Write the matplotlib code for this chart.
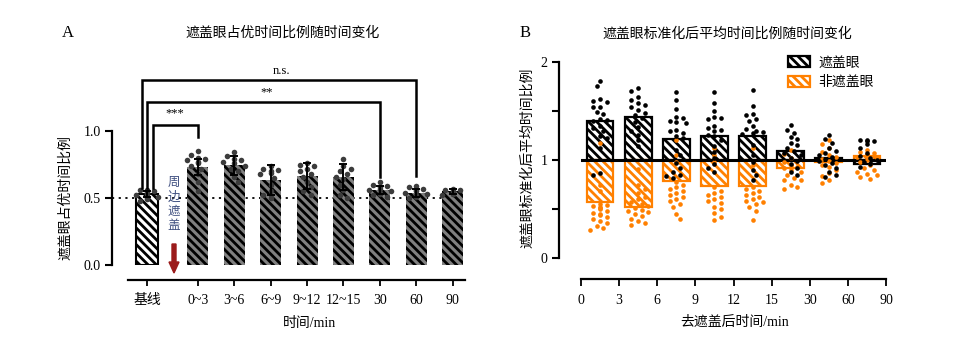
import numpy as np
import matplotlib
matplotlib.use('Agg')
import matplotlib.pyplot as plt
from matplotlib.patches import Patch, FancyArrow

plt.rcParams['font.family'] = ['Liberation Serif', 'Noto Sans CJK SC']
plt.rcParams['hatch.linewidth'] = 2.0
plt.rcParams['axes.unicode_minus'] = False

# ---------------- Panel A data ----------------
a_categories = ['基线', '0~3', '3~6', '6~9', '9~12', '12~15', '30', '60', '90']
a_means = [0.53, 0.73, 0.745, 0.634, 0.664, 0.657, 0.56, 0.537, 0.55]
a_sd = [0.02, 0.06, 0.07, 0.11, 0.10, 0.10, 0.03, 0.03, 0.02]
a_pts_base = [0.56, 0.56, 0.55, 0.55, 0.54, 0.54, 0.53, 0.52, 0.51, 0.50, 0.49, 0.48]
a_pts_0_3 = [0.85, 0.82, 0.80, 0.79, 0.78, 0.77, 0.76, 0.74, 0.72, 0.68, 0.62, 0.55]
a_pts_3_6 = [0.84, 0.81, 0.79, 0.78, 0.77, 0.76, 0.74, 0.72, 0.70, 0.66, 0.62]
a_pts_6_9 = [0.74, 0.72, 0.71, 0.70, 0.69, 0.68, 0.65, 0.60, 0.55, 0.52, 0.50]
a_pts_9_12 = [0.76, 0.75, 0.74, 0.72, 0.70, 0.68, 0.66, 0.62, 0.58, 0.55, 0.52]
a_pts_12_15 = [0.79, 0.74, 0.72, 0.70, 0.68, 0.66, 0.64, 0.60, 0.56, 0.52, 0.50]
a_pts_30 = [0.62, 0.60, 0.59, 0.58, 0.57, 0.56, 0.55, 0.54, 0.53, 0.52, 0.51]
a_pts_60 = [0.59, 0.58, 0.57, 0.56, 0.55, 0.54, 0.53, 0.52, 0.51, 0.50]
a_pts_90 = [0.57, 0.56, 0.56, 0.55, 0.55, 0.54, 0.54, 0.53, 0.53, 0.52]
a_points = [a_pts_base, a_pts_0_3, a_pts_3_6, a_pts_6_9, a_pts_9_12,
            a_pts_12_15, a_pts_30, a_pts_60, a_pts_90]
a_sig_labels = ['***', '**', 'n.s.']
a_sig_targets = ['0~3', '30', '60']
a_annot_text = '周边遮盖'

# ---------------- Panel B data ----------------
b_ticklabels = ['0', '3', '6', '9', '12', '15', '30', '60', '90']
b_cover_means = [1.40, 1.44, 1.21, 1.25, 1.25, 1.09, 1.02, 0.96]
b_uncover_means = [0.57, 0.52, 0.79, 0.73, 0.73, 0.92, 0.98, 1.04]
b_cover_pts = [
    [1.81, 1.76, 1.62, 1.60, 1.59, 1.54, 1.54, 1.49, 1.47, 1.42, 1.41, 1.40, 1.35, 1.33, 1.30, 1.25, 1.22, 1.12, 0.87, 0.85],
    [1.73, 1.70, 1.64, 1.61, 1.58, 1.56, 1.54, 1.51, 1.48, 1.46, 1.43, 1.39, 1.34, 1.30, 1.26, 1.20, 1.14],
    [1.69, 1.61, 1.52, 1.44, 1.43, 1.40, 1.39, 1.38, 1.31, 1.30, 1.28, 1.25, 1.22, 1.10, 1.05, 0.97, 0.92, 0.88, 0.85, 0.84, 0.82],
    [1.69, 1.58, 1.50, 1.44, 1.43, 1.42, 1.35, 1.33, 1.31, 1.30, 1.26, 1.24, 1.20, 1.14, 1.08, 1.02, 0.96, 0.92, 0.88],
    [1.71, 1.55, 1.47, 1.46, 1.42, 1.40, 1.35, 1.32, 1.30, 1.29, 1.28, 1.27, 1.15, 1.05, 0.98, 0.90, 0.85, 0.80],
    [1.36, 1.31, 1.28, 1.23, 1.21, 1.17, 1.15, 1.12, 1.09, 1.07, 1.05, 1.02, 0.99, 0.96, 0.92, 0.88, 0.85],
    [1.26, 1.21, 1.17, 1.12, 1.09, 1.07, 1.05, 1.03, 1.01, 0.99, 0.97, 0.95, 0.92, 0.88, 0.85, 0.83],
    [1.20, 1.20, 1.19, 1.19, 1.16, 1.12, 1.07, 1.04, 1.02, 1.00, 0.98, 0.96, 0.93],
]
b_uncover_pts = [
    [1.17, 0.75, 0.68, 0.55, 0.54, 0.53, 0.52, 0.51, 0.50, 0.48, 0.46, 0.45, 0.44, 0.42, 0.40, 0.38, 0.36, 0.33, 0.31, 0.29],
    [0.91, 0.74, 0.70, 0.66, 0.62, 0.60, 0.57, 0.55, 0.53, 0.51, 0.49, 0.48, 0.47, 0.45, 0.43, 0.40, 0.38, 0.36, 0.34],
    [1.20, 1.05, 0.98, 0.78, 0.74, 0.72, 0.70, 0.68, 0.66, 0.64, 0.62, 0.60, 0.58, 0.55, 0.52, 0.45, 0.40],
    [1.12, 1.05, 0.98, 0.72, 0.68, 0.66, 0.64, 0.62, 0.60, 0.58, 0.56, 0.52, 0.50, 0.46, 0.42, 0.39],
    [1.12, 0.95, 0.72, 0.70, 0.68, 0.66, 0.64, 0.62, 0.60, 0.58, 0.57, 0.55, 0.52, 0.48, 0.39],
    [1.10, 1.06, 1.02, 0.98, 0.95, 0.93, 0.92, 0.90, 0.88, 0.85, 0.82, 0.80, 0.80, 0.74, 0.72, 0.70],
    [1.20, 1.16, 1.12, 1.08, 1.05, 1.03, 1.01, 0.99, 0.97, 0.95, 0.93, 0.90, 0.87, 0.84, 0.80, 0.77],
    [1.10, 1.08, 1.07, 1.06, 1.05, 1.04, 1.03, 1.02, 1.00, 0.98, 0.95, 0.92, 0.90, 0.88, 0.86, 0.85, 0.83, 0.81],
]
b_legend = ['遮盖眼', '非遮盖眼']

ORANGE = '#ff8000'
W, H = 967, 345


def swarm(values, xscale, yscale, diam, maxhalf):
    """Deterministic beeswarm offsets (data units) for a list of values."""
    placed = []
    offs = []
    step = diam * 0.6
    for v in values:
        y = v * yscale
        chosen = None
        k = 0
        while chosen is None and k < 60:
            cands = [0.0] if k == 0 else [k * step, -k * step]
            if len(placed) % 2 == 1:
                cands = cands[::-1]
            for x in cands:
                if abs(x) > maxhalf:
                    continue
                if all((x - px) ** 2 + (y - py) ** 2 >= diam ** 2 for px, py in placed):
                    chosen = x
                    break
            k += 1
        if chosen is None:
            chosen = 0.0
        placed.append((chosen, y))
        offs.append(chosen / xscale)
    return np.array(offs)


fig = plt.figure(figsize=(W / 100, H / 100), dpi=100)

# ================= Panel A =================
axA = fig.add_axes([112 / W, (345 - 265) / H, 353 / W, 201 / H])
xA = np.array([0.0] + [1.4 + i for i in range(len(a_categories) - 1)])
axA.set_xlim(-0.96, 8.74)
axA.set_ylim(0, 1.5)

for i, (x, m) in enumerate(zip(xA, a_means)):
    if i == 0:
        axA.bar(x, m, width=0.6, facecolor='white', edgecolor='black', hatch='\\\\\\\\', lw=1.5, zorder=2)
    else:
        axA.bar(x, m, width=0.58, facecolor='#808080', edgecolor='black', hatch='\\\\\\\\', lw=0, zorder=2)

for i, (x, pts) in enumerate(zip(xA, a_points)):
    offs = swarm(pts, 36.4, 134, 6.0, 11)
    axA.scatter(x + offs, pts, s=16, color='#3c3c3c', zorder=3, linewidths=0)

axA.errorbar(xA, a_means, yerr=a_sd, fmt='none', ecolor='black', elinewidth=1.4,
             capsize=3, capthick=1.4, zorder=4)

axA.axhline(0.5, color='black', lw=1.3, ls=(0, (1.2, 2.5)), zorder=1)

# significance brackets
left_x = [0.16, 0.0, -0.14]
tops = [1.045, 1.22, 1.38]
right_bottoms = [0.955, 0.657, 0.664]
label_y = [1.13, 1.29, 1.45]
label_x_px = [175, 267, 282]
for lab, tgt, lx, top, rb, ly, lxp in zip(a_sig_labels, a_sig_targets, left_x, tops, right_bottoms, label_y, label_x_px):
    rx = xA[a_categories.index(tgt)]
    axA.plot([lx, lx, rx, rx], [0.575, top, top, rb], color='black', lw=1.8,
             clip_on=False, zorder=5, solid_joinstyle='miter')
    axA.text((lxp - 147) / 36.4, ly, lab, ha='center', va='center', fontsize=9)

for s in ['top', 'right']:
    axA.spines[s].set_visible(False)
axA.spines['left'].set_bounds(0, 1.0)
axA.spines['left'].set_linewidth(1.6)
axA.spines['bottom'].set_linewidth(1.6)
axA.spines['bottom'].set_bounds(-0.52, 8.74)
axA.spines['bottom'].set_position(('outward', 11))
axA.set_yticks([0, 0.5, 1.0])
axA.set_yticklabels(['0.0', '0.5', '1.0'], fontsize=10)
axA.set_xticks(xA)
axA.set_xticklabels(a_categories, fontsize=10)
axA.tick_params(axis='y', length=5, width=1.5, pad=3)
axA.tick_params(axis='x', length=4, width=1.3, pad=6)
axA.patch.set_alpha(0)

fig.text(62 / W, 1 - 33 / H, 'A', fontsize=12, ha='left', va='center')
fig.text(283 / W, 1 - 33 / H, '遮盖眼占优时间比例随时间变化', fontsize=10, ha='center', va='center')
fig.text(66 / W, 1 - 198 / H, '遮盖眼占优时间比例', fontsize=10, rotation=90, ha='center', va='center')
fig.text(310 / W, 1 - 323 / H, '时间/min', fontsize=10, ha='center', va='center')
for k, ch in enumerate(a_annot_text):
    fig.text(174 / W, 1 - (183 + 14.3 * k) / H, ch, fontsize=9, ha='center', va='center',
             color='#3f4f80')
fig.patches.append(FancyArrow(174 / W, 1 - 244 / H, 0, -(29 / H), width=4 / W, head_width=10 / W,
                              head_length=11 / H, length_includes_head=True, color='#9b1b1b',
                              transform=fig.transFigure, figure=fig))

# ================= Panel B =================
axB = fig.add_axes([581 / W, (345 - 258) / H, 305 / W, 196 / H])
axB.set_xlim(0, 8)
axB.set_ylim(0, 2)
xB = np.arange(len(b_cover_means)) + 0.5

for x, m in zip(xB, b_uncover_means):
    axB.bar(x, m - 1, bottom=1, width=0.7, facecolor='white', edgecolor=ORANGE, hatch='\\\\\\\\', lw=1.6, zorder=2)
for x, m in zip(xB, b_cover_means):
    axB.bar(x, m - 1, bottom=1, width=0.7, facecolor='none', edgecolor='black', hatch='\\\\\\\\', lw=1.6, zorder=2.5)

axB.plot([0, 8], [1, 1], color='black', lw=2.2, zorder=3)

for x, pts in zip(xB, b_uncover_pts):
    offs = swarm(pts, 38.1, 98, 5.6, 13)
    axB.scatter(x + offs, pts, s=11, color=ORANGE, zorder=4, linewidths=0)
for x, pts in zip(xB, b_cover_pts):
    offs = swarm(pts, 38.1, 98, 5.6, 13)
    axB.scatter(x + offs, pts, s=11, color='black', zorder=4.5, linewidths=0)

for s in ['top', 'right']:
    axB.spines[s].set_visible(False)
axB.spines['left'].set_position(('outward', 16))
axB.spines['bottom'].set_position(('outward', 15))
axB.spines['left'].set_linewidth(1.6)
axB.spines['bottom'].set_linewidth(1.6)
axB.set_yticks([0, 0.5, 1, 1.5, 2])
axB.set_yticklabels(['0', '', '1', '', '2'], fontsize=10)
axB.set_xticks(range(9))
axB.set_xticklabels(b_ticklabels, fontsize=10)
axB.tick_params(axis='y', length=5, width=1.5, pad=3)
axB.tick_params(axis='x', length=5, width=1.3, pad=6)
axB.patch.set_alpha(0)

handles = [Patch(facecolor='white', edgecolor='black', hatch='\\\\\\\\', lw=1.6, label=b_legend[0]),
           Patch(facecolor='white', edgecolor=ORANGE, hatch='\\\\\\\\', lw=1.6, label=b_legend[1])]
fig.legend(handles=handles, loc='upper left', bbox_to_anchor=(781 / W, 1 - 49 / H),
           bbox_transform=fig.transFigure, frameon=False, fontsize=10, handlelength=1.6,
           handleheight=0.9, borderpad=0, labelspacing=0.45, handletextpad=0.6)

fig.text(520 / W, 1 - 33 / H, 'B', fontsize=12, ha='left', va='center')
fig.text(727 / W, 1 - 34 / H, '遮盖眼标准化后平均时间比例随时间变化', fontsize=10, ha='center', va='center')
fig.text(527 / W, 1 - 158 / H, '遮盖眼标准化后平均时间比例', fontsize=10, rotation=90, ha='center', va='center')
fig.text(735 / W, 1 - 322 / H, '去遮盖后时间/min', fontsize=10, ha='center', va='center')

fig.savefig('out.png', dpi=100, facecolor='white')
